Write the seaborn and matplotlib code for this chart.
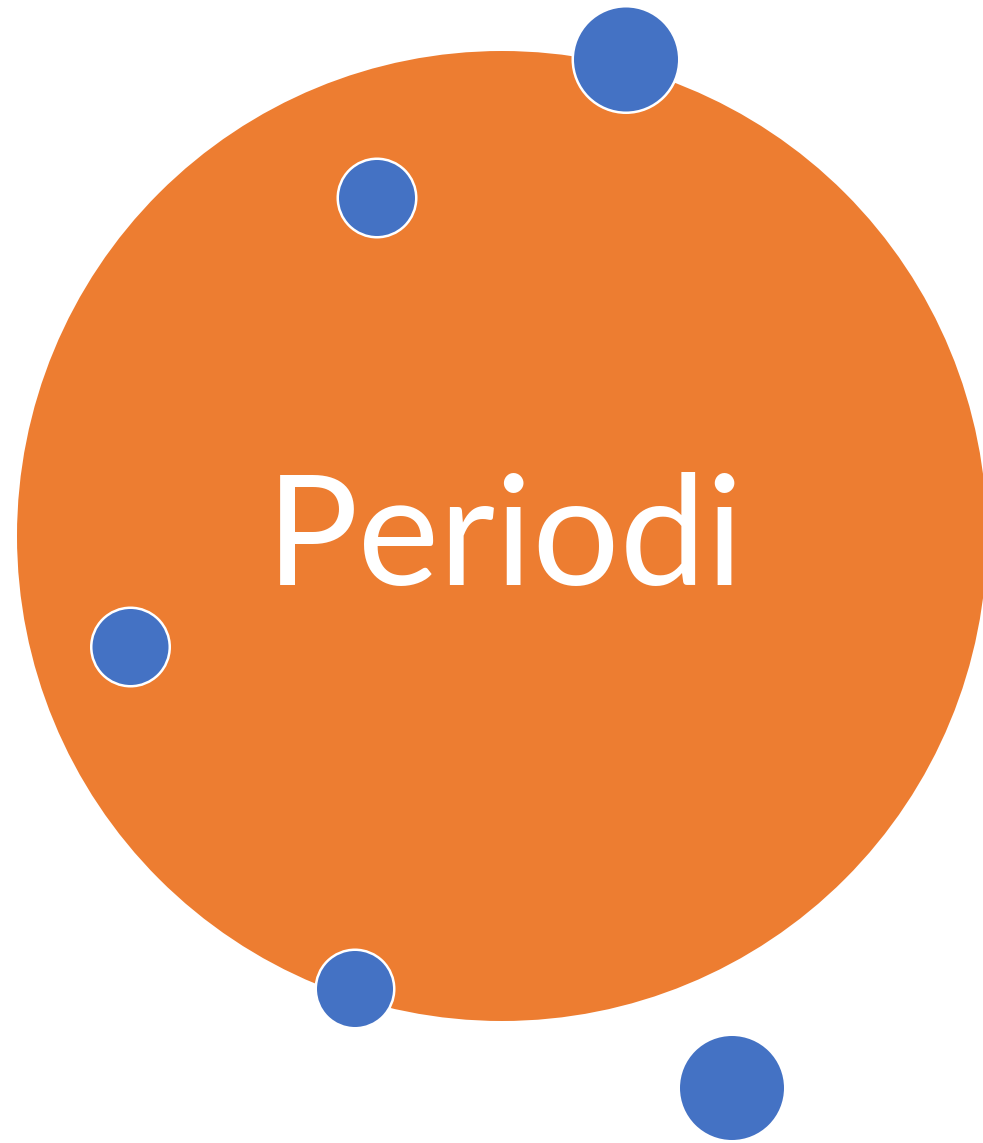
import matplotlib
matplotlib.use("Agg")
import matplotlib.pyplot as plt
import seaborn as sns
import pandas as pd
from matplotlib.patches import Circle

# ---- data ----
title_text = "Periodi"
main_center = (502, 536)
main_radius = 485
dot_x = [626, 377, 130.5, 355, 732]
dot_y = [59.5, 198, 647, 989, 1088]
dot_r = [54.5, 40.5, 40.5, 40.5, 54.5]

ORANGE = "#ED7D31"
BLUE = "#4472C4"
DPI = 100
W, H = 983, 1143

sns.set_theme(style="white")
plt.rcParams["font.family"] = ["Lato", "DejaVu Sans"]

fig = plt.figure(figsize=(W / DPI, H / DPI), dpi=DPI)
ax = fig.add_axes([0, 0, 1, 1])

ax.add_patch(Circle(main_center, main_radius, facecolor=ORANGE, edgecolor="none", zorder=1))

lw_px = 2.5
df = pd.DataFrame({"x": dot_x, "y": dot_y, "r": dot_r})
sizes = {r: ((2 * r - lw_px) * 72 / DPI) ** 2 for r in dot_r}
sns.scatterplot(data=df, x="x", y="y", size="r", sizes=sizes, color=BLUE,
                edgecolor="white", linewidth=lw_px * 72 / DPI, legend=False,
                ax=ax, zorder=3)
ax.set_xlim(0, W)
ax.set_ylim(H, 0)
ax.axis("off")

ax.text(505, 585, title_text, color="white", fontsize=111, ha="center",
        va="baseline", zorder=4)

fig.savefig("out.png", dpi=DPI)
